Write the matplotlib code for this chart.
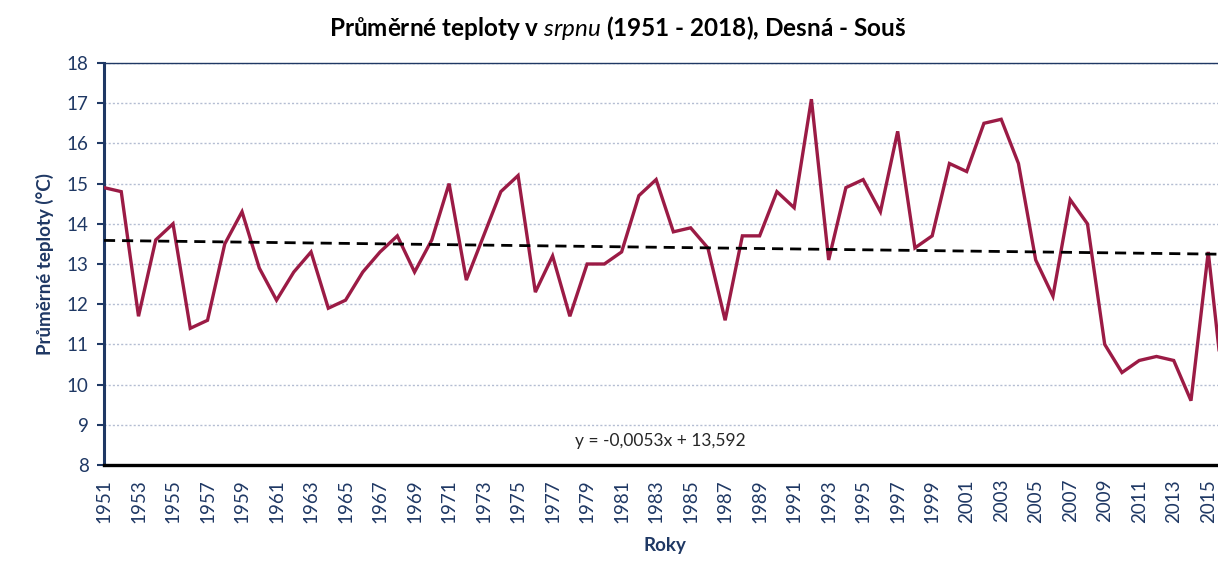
import matplotlib
matplotlib.use("Agg")
import matplotlib.pyplot as plt
import numpy as np

# Průměrné teploty v srpnu, Desná - Souš
roky = np.arange(1951, 2017)
teploty = [14.9, 14.8, 11.7, 13.6, 14.0, 11.4, 11.6, 13.5, 14.3, 12.9,
           12.1, 12.8, 13.3, 11.9, 12.1, 12.8, 13.3, 13.7, 12.8, 13.6,
           15.0, 12.6, 13.7, 14.8, 15.2, 12.3, 13.2, 11.7, 13.0, 13.0,
           13.3, 14.7, 15.1, 13.8, 13.9, 13.4, 11.6, 13.7, 13.7, 14.8,
           14.4, 17.1, 13.1, 14.9, 15.1, 14.3, 16.3, 13.4, 13.7, 15.5,
           15.3, 16.5, 16.6, 15.5, 13.1, 12.2, 14.6, 14.0, 11.0, 10.3,
           10.6, 10.7, 10.6, 9.6, 13.3, 9.4]

# lineární trend z Excelu: y = -0,0053x + 13,592 (x = 1..68)
sklon = -0.0053
posun = 13.592
prvni_rok, posledni_rok = 1951, 2018
popisky_x = np.arange(1951, 2018, 2)
popisky_y = np.arange(8, 19, 1)

navy = "#1F3864"
vinova = "#9B1B45"

plt.rcParams["font.family"] = ["Lato", "DejaVu Sans"]
plt.rcParams["mathtext.fontset"] = "custom"
plt.rcParams["mathtext.it"] = "Lato:italic"
plt.rcParams["mathtext.rm"] = "Lato"

fig = plt.figure(figsize=(12.18, 5.61), dpi=100)
# plocha grafu přesahuje pravý okraj obrázku (originál je oříznutý)
ax = fig.add_axes([104 / 1218, 1 - 465 / 561, 1156 / 1218, (465 - 63) / 561])

ax.plot(roky, teploty, color=vinova, lw=2.4, solid_joinstyle="miter", zorder=3)

x_trend = np.arange(prvni_rok, posledni_rok + 1)
y_trend = sklon * (x_trend - prvni_rok + 1) + posun
ax.plot(x_trend, y_trend, color="black", lw=2.0, ls=(0, (4, 2.5)), zorder=4)

ax.set_xlim(prvni_rok, posledni_rok)
ax.set_ylim(8, 18)
ax.set_yticks(popisky_y)
ax.set_xticks(popisky_x)
ax.set_xticklabels([str(r) for r in popisky_x], rotation=90)
ax.tick_params(axis="y", colors=navy, labelsize=13.5, length=5, width=1.5,
               direction="out", pad=6)
ax.tick_params(axis="x", colors=navy, labelsize=13.5, length=0, pad=10)

ax.grid(axis="y", color="#B4BDD2", lw=1.0, ls=(0, (1.5, 1.5)))
ax.set_axisbelow(True)
ax.spines["right"].set_visible(False)
ax.spines["top"].set_color(navy)
ax.spines["top"].set_linewidth(1.0)
ax.spines["left"].set_color(navy)
ax.spines["left"].set_linewidth(2.2)
ax.spines["bottom"].set_color("black")
ax.spines["bottom"].set_linewidth(2.4)
ax.spines["bottom"].set_zorder(5)

fig.text(660 / 1218, 1 - 441 / 561, "y = -0,0053x + 13,592", fontsize=12.5,
         color="#262626", ha="center", va="center")

fig.text(617 / 1218, 1 - 28 / 561,
         "Průměrné teploty v $srpnu$ (1951 - 2018), Desná - Souš",
         ha="center", va="center", fontsize=17.5, fontweight="bold", color="black")
fig.text(45 / 1218, 1 - 264 / 561, "Průměrné teploty (°C)", rotation=90,
         ha="center", va="center", fontsize=13.5, fontweight="bold", color=navy)
fig.text(665 / 1218, 1 - 545 / 561, "Roky", ha="center", va="center",
         fontsize=13.5, fontweight="bold", color=navy)

fig.savefig("out.png", dpi=100)
